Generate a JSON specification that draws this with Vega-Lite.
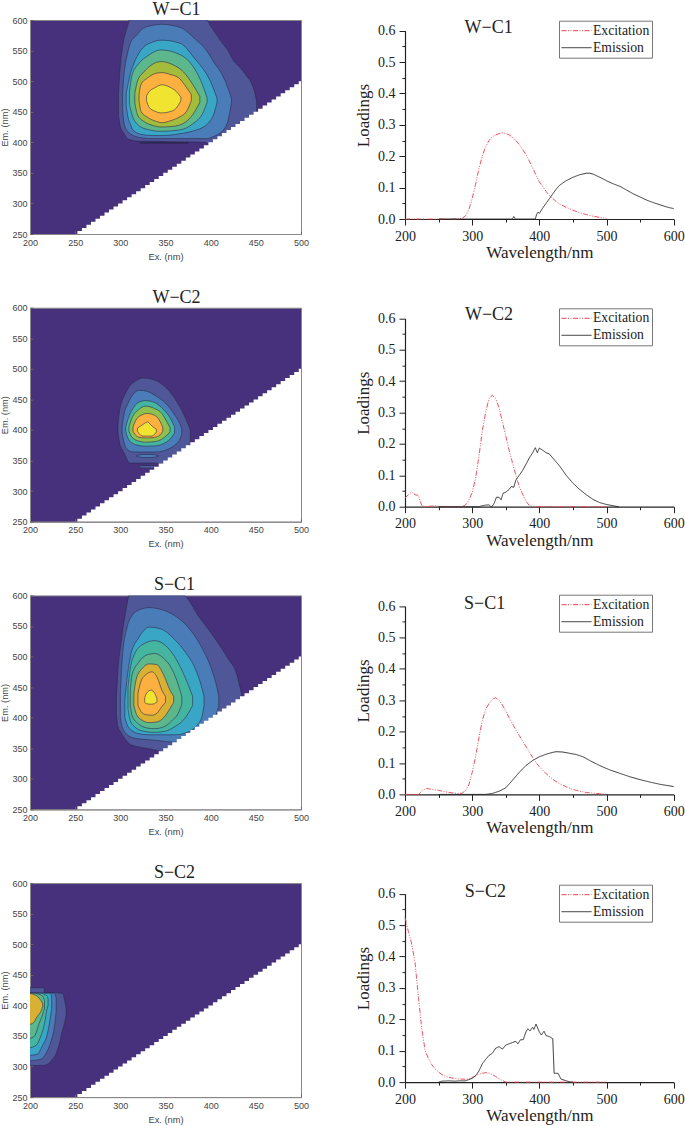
{"$schema":"https://vega.github.io/schema/vega-lite/v6.json","padding":{"left":0,"top":0,"right":0,"bottom":0},"background":"white","bounds":"flush","spacing":375,"config":{"view":{"stroke":null}},"resolve":{"scale":{"stroke":"independent","strokeDash":"independent"},"legend":{"stroke":"independent","strokeDash":"independent"}},
"datasets":{
"diagonal":[{"ex":200,"em":250},{"ex":250,"em":250},{"ex":255,"em":255},{"ex":260,"em":260},{"ex":265,"em":265},{"ex":270,"em":270},{"ex":275,"em":275},{"ex":280,"em":280},{"ex":285,"em":285},{"ex":290,"em":290},{"ex":295,"em":295},{"ex":300,"em":300},{"ex":305,"em":305},{"ex":310,"em":310},{"ex":315,"em":315},{"ex":320,"em":320},{"ex":325,"em":325},{"ex":330,"em":330},{"ex":335,"em":335},{"ex":340,"em":340},{"ex":345,"em":345},{"ex":350,"em":350},{"ex":355,"em":355},{"ex":360,"em":360},{"ex":365,"em":365},{"ex":370,"em":370},{"ex":375,"em":375},{"ex":380,"em":380},{"ex":385,"em":385},{"ex":390,"em":390},{"ex":395,"em":395},{"ex":400,"em":400},{"ex":405,"em":405},{"ex":410,"em":410},{"ex":415,"em":415},{"ex":420,"em":420},{"ex":425,"em":425},{"ex":430,"em":430},{"ex":435,"em":435},{"ex":440,"em":440},{"ex":445,"em":445},{"ex":450,"em":450},{"ex":455,"em":455},{"ex":460,"em":460},{"ex":465,"em":465},{"ex":470,"em":470},{"ex":475,"em":475},{"ex":480,"em":480},{"ex":485,"em":485},{"ex":490,"em":490},{"ex":495,"em":495},{"ex":500,"em":500}],
"labels":[{"panel":"W-C1","label":"W−C1","wl":324.6,"loading":0.592},{"panel":"W-C2","label":"W−C2","wl":325,"loading":0.594},{"panel":"S-C1","label":"S−C1","wl":318.6,"loading":0.59},{"panel":"S-C2","label":"S−C2","wl":319.7,"loading":0.591}],
"contours":[
{"panel":"W-C1","shape":"1","level":"slate","ex":298,"lo":445,"hi":480},{"panel":"W-C1","shape":"1","level":"slate","ex":300,"lo":425,"hi":525},{"panel":"W-C1","shape":"1","level":"slate","ex":303,"lo":417,"hi":560},{"panel":"W-C1","shape":"1","level":"slate","ex":308,"lo":406,"hi":590},{"panel":"W-C1","shape":"1","level":"slate","ex":311,"lo":404,"hi":603},{"panel":"W-C1","shape":"1","level":"slate","ex":320,"lo":402,"hi":603},{"panel":"W-C1","shape":"1","level":"slate","ex":394,"lo":400,"hi":603},{"panel":"W-C1","shape":"1","level":"slate","ex":400,"lo":395,"hi":590},{"panel":"W-C1","shape":"1","level":"slate","ex":410,"lo":395,"hi":568},{"panel":"W-C1","shape":"1","level":"slate","ex":420,"lo":395,"hi":548},{"panel":"W-C1","shape":"1","level":"slate","ex":425,"lo":395,"hi":534},{"panel":"W-C1","shape":"1","level":"slate","ex":430,"lo":395,"hi":526},{"panel":"W-C1","shape":"1","level":"slate","ex":435,"lo":395,"hi":518},{"panel":"W-C1","shape":"1","level":"slate","ex":440,"lo":395,"hi":508},{"panel":"W-C1","shape":"1","level":"slate","ex":445,"lo":395,"hi":497},{"panel":"W-C1","shape":"1","level":"slate","ex":449,"lo":395,"hi":480},{"panel":"W-C1","shape":"1","level":"slate","ex":451,"lo":395,"hi":465},
{"panel":"W-C1","shape":"1d","level":"dark","ex":322,"lo":398.4,"hi":399.6},{"panel":"W-C1","shape":"1d","level":"dark","ex":375,"lo":398.4,"hi":399.6},
{"panel":"W-C1","shape":"2","level":"blue","ex":302.5,"lo":455,"hi":480},{"panel":"W-C1","shape":"2","level":"blue","ex":304,"lo":432,"hi":510},{"panel":"W-C1","shape":"2","level":"blue","ex":308,"lo":418,"hi":545},{"panel":"W-C1","shape":"2","level":"blue","ex":311,"lo":414,"hi":562},{"panel":"W-C1","shape":"2","level":"blue","ex":318,"lo":409,"hi":575},{"panel":"W-C1","shape":"2","level":"blue","ex":325,"lo":407,"hi":586},{"panel":"W-C1","shape":"2","level":"blue","ex":335,"lo":406,"hi":591},{"panel":"W-C1","shape":"2","level":"blue","ex":346,"lo":406,"hi":593},{"panel":"W-C1","shape":"2","level":"blue","ex":358,"lo":406,"hi":591},{"panel":"W-C1","shape":"2","level":"blue","ex":369,"lo":406,"hi":586},{"panel":"W-C1","shape":"2","level":"blue","ex":382,"lo":406,"hi":570},{"panel":"W-C1","shape":"2","level":"blue","ex":395,"lo":406,"hi":551},{"panel":"W-C1","shape":"2","level":"blue","ex":404,"lo":410,"hi":530},{"panel":"W-C1","shape":"2","level":"blue","ex":414,"lo":420,"hi":507},{"panel":"W-C1","shape":"2","level":"blue","ex":420,"lo":440,"hi":485},{"panel":"W-C1","shape":"2","level":"blue","ex":423,"lo":465,"hi":472},
{"panel":"W-C1","shape":"3","level":"sky","ex":306.5,"lo":460,"hi":480},{"panel":"W-C1","shape":"3","level":"sky","ex":308.5,"lo":441,"hi":495},{"panel":"W-C1","shape":"3","level":"sky","ex":311,"lo":430,"hi":512},{"panel":"W-C1","shape":"3","level":"sky","ex":314,"lo":420,"hi":525},{"panel":"W-C1","shape":"3","level":"sky","ex":323,"lo":413,"hi":551},{"panel":"W-C1","shape":"3","level":"sky","ex":336,"lo":411,"hi":564},{"panel":"W-C1","shape":"3","level":"sky","ex":346,"lo":411,"hi":567},{"panel":"W-C1","shape":"3","level":"sky","ex":366,"lo":414,"hi":562},{"panel":"W-C1","shape":"3","level":"sky","ex":384,"lo":420,"hi":534},{"panel":"W-C1","shape":"3","level":"sky","ex":388,"lo":422,"hi":527},{"panel":"W-C1","shape":"3","level":"sky","ex":402,"lo":441,"hi":492},{"panel":"W-C1","shape":"3","level":"sky","ex":407,"lo":465,"hi":472},
{"panel":"W-C1","shape":"4","level":"green","ex":310,"lo":462,"hi":482},{"panel":"W-C1","shape":"4","level":"green","ex":313,"lo":445,"hi":510},{"panel":"W-C1","shape":"4","level":"green","ex":320,"lo":428,"hi":528},{"panel":"W-C1","shape":"4","level":"green","ex":330,"lo":421,"hi":541},{"panel":"W-C1","shape":"4","level":"green","ex":345,"lo":418,"hi":551},{"panel":"W-C1","shape":"4","level":"green","ex":365,"lo":420,"hi":544},{"panel":"W-C1","shape":"4","level":"green","ex":380,"lo":430,"hi":525},{"panel":"W-C1","shape":"4","level":"green","ex":392,"lo":450,"hi":490},{"panel":"W-C1","shape":"4","level":"green","ex":396,"lo":465,"hi":473},
{"panel":"W-C1","shape":"5","level":"olive","ex":316,"lo":465,"hi":480},{"panel":"W-C1","shape":"5","level":"olive","ex":319,"lo":445,"hi":500},{"panel":"W-C1","shape":"5","level":"olive","ex":326,"lo":434,"hi":515},{"panel":"W-C1","shape":"5","level":"olive","ex":335,"lo":428,"hi":527},{"panel":"W-C1","shape":"5","level":"olive","ex":345,"lo":425,"hi":532},{"panel":"W-C1","shape":"5","level":"olive","ex":358,"lo":426,"hi":527},{"panel":"W-C1","shape":"5","level":"olive","ex":370,"lo":431,"hi":515},{"panel":"W-C1","shape":"5","level":"olive","ex":380,"lo":445,"hi":495},{"panel":"W-C1","shape":"5","level":"olive","ex":388,"lo":465,"hi":475},
{"panel":"W-C1","shape":"6","level":"orange","ex":320.7,"lo":468,"hi":478},{"panel":"W-C1","shape":"6","level":"orange","ex":323,"lo":450,"hi":495},{"panel":"W-C1","shape":"6","level":"orange","ex":330,"lo":441,"hi":505},{"panel":"W-C1","shape":"6","level":"orange","ex":340,"lo":434,"hi":513},{"panel":"W-C1","shape":"6","level":"orange","ex":346,"lo":432,"hi":514},{"panel":"W-C1","shape":"6","level":"orange","ex":355,"lo":435,"hi":511},{"panel":"W-C1","shape":"6","level":"orange","ex":365,"lo":441,"hi":505},{"panel":"W-C1","shape":"6","level":"orange","ex":373,"lo":450,"hi":490},{"panel":"W-C1","shape":"6","level":"orange","ex":378.6,"lo":468,"hi":478},
{"panel":"W-C1","shape":"7","level":"yellow","ex":329,"lo":468,"hi":476},{"panel":"W-C1","shape":"7","level":"yellow","ex":332,"lo":457,"hi":483},{"panel":"W-C1","shape":"7","level":"yellow","ex":338,"lo":451,"hi":489},{"panel":"W-C1","shape":"7","level":"yellow","ex":346,"lo":448,"hi":494},{"panel":"W-C1","shape":"7","level":"yellow","ex":355,"lo":450,"hi":490},{"panel":"W-C1","shape":"7","level":"yellow","ex":362,"lo":456,"hi":483},{"panel":"W-C1","shape":"7","level":"yellow","ex":367,"lo":468,"hi":474},

{"panel":"W-C2","shape":"1","level":"slate","ex":297.4,"lo":395,"hi":410},{"panel":"W-C2","shape":"1","level":"slate","ex":299,"lo":380,"hi":430},{"panel":"W-C2","shape":"1","level":"slate","ex":302,"lo":368,"hi":448},{"panel":"W-C2","shape":"1","level":"slate","ex":305,"lo":360,"hi":458},{"panel":"W-C2","shape":"1","level":"slate","ex":310,"lo":346,"hi":471},{"panel":"W-C2","shape":"1","level":"slate","ex":318,"lo":346,"hi":481},{"panel":"W-C2","shape":"1","level":"slate","ex":325,"lo":346,"hi":485},{"panel":"W-C2","shape":"1","level":"slate","ex":335,"lo":346,"hi":483},{"panel":"W-C2","shape":"1","level":"slate","ex":345,"lo":345,"hi":476},{"panel":"W-C2","shape":"1","level":"slate","ex":355,"lo":350,"hi":462},{"panel":"W-C2","shape":"1","level":"slate","ex":365,"lo":355,"hi":440},{"panel":"W-C2","shape":"1","level":"slate","ex":372,"lo":365,"hi":420},{"panel":"W-C2","shape":"1","level":"slate","ex":377.5,"lo":375,"hi":400},
{"panel":"W-C2","shape":"1b","level":"slate","ex":320,"lo":339,"hi":341},{"panel":"W-C2","shape":"1b","level":"slate","ex":325,"lo":337.5,"hi":342},{"panel":"W-C2","shape":"1b","level":"slate","ex":335,"lo":337.5,"hi":342},{"panel":"W-C2","shape":"1b","level":"slate","ex":340,"lo":339,"hi":341},
{"panel":"W-C2","shape":"2","level":"blue","ex":302,"lo":395,"hi":405},{"panel":"W-C2","shape":"2","level":"blue","ex":304,"lo":380,"hi":425},{"panel":"W-C2","shape":"2","level":"blue","ex":308,"lo":368,"hi":442},{"panel":"W-C2","shape":"2","level":"blue","ex":314,"lo":364,"hi":458},{"panel":"W-C2","shape":"2","level":"blue","ex":321,"lo":364,"hi":465},{"panel":"W-C2","shape":"2","level":"blue","ex":330,"lo":364,"hi":463},{"panel":"W-C2","shape":"2","level":"blue","ex":340,"lo":364,"hi":455},{"panel":"W-C2","shape":"2","level":"blue","ex":350,"lo":367,"hi":444},{"panel":"W-C2","shape":"2","level":"blue","ex":360,"lo":375,"hi":425},{"panel":"W-C2","shape":"2","level":"blue","ex":366,"lo":385,"hi":410},{"panel":"W-C2","shape":"2","level":"blue","ex":368,"lo":393,"hi":402},
{"panel":"W-C2","shape":"2b","level":"blue","ex":318,"lo":357,"hi":358},{"panel":"W-C2","shape":"2b","level":"blue","ex":325,"lo":355,"hi":360},{"panel":"W-C2","shape":"2b","level":"blue","ex":335,"lo":355,"hi":360},{"panel":"W-C2","shape":"2b","level":"blue","ex":342,"lo":357,"hi":358},
{"panel":"W-C2","shape":"3","level":"teal","ex":306,"lo":398,"hi":405},{"panel":"W-C2","shape":"3","level":"teal","ex":309,"lo":385,"hi":420},{"panel":"W-C2","shape":"3","level":"teal","ex":314,"lo":378,"hi":435},{"panel":"W-C2","shape":"3","level":"teal","ex":320,"lo":375,"hi":445},{"panel":"W-C2","shape":"3","level":"teal","ex":328,"lo":373.5,"hi":448},{"panel":"W-C2","shape":"3","level":"teal","ex":338,"lo":374,"hi":445},{"panel":"W-C2","shape":"3","level":"teal","ex":348,"lo":378,"hi":433},{"panel":"W-C2","shape":"3","level":"teal","ex":355,"lo":385,"hi":420},{"panel":"W-C2","shape":"3","level":"teal","ex":360,"lo":395,"hi":405},
{"panel":"W-C2","shape":"4","level":"lime","ex":309.5,"lo":398,"hi":405},{"panel":"W-C2","shape":"4","level":"lime","ex":313,"lo":388,"hi":420},{"panel":"W-C2","shape":"4","level":"lime","ex":320,"lo":382,"hi":433},{"panel":"W-C2","shape":"4","level":"lime","ex":328,"lo":380,"hi":439},{"panel":"W-C2","shape":"4","level":"lime","ex":338,"lo":381,"hi":435},{"panel":"W-C2","shape":"4","level":"lime","ex":346,"lo":385,"hi":427},{"panel":"W-C2","shape":"4","level":"lime","ex":352,"lo":392,"hi":412},{"panel":"W-C2","shape":"4","level":"lime","ex":355,"lo":397,"hi":404},
{"panel":"W-C2","shape":"5","level":"orange","ex":314,"lo":398,"hi":405},{"panel":"W-C2","shape":"5","level":"orange","ex":318,"lo":390,"hi":418},{"panel":"W-C2","shape":"5","level":"orange","ex":323,"lo":387.5,"hi":424},{"panel":"W-C2","shape":"5","level":"orange","ex":330,"lo":387,"hi":427},{"panel":"W-C2","shape":"5","level":"orange","ex":338,"lo":388,"hi":424},{"panel":"W-C2","shape":"5","level":"orange","ex":344,"lo":392,"hi":414},{"panel":"W-C2","shape":"5","level":"orange","ex":347,"lo":398,"hi":404},
{"panel":"W-C2","shape":"6","level":"yellow","ex":319,"lo":398,"hi":403},{"panel":"W-C2","shape":"6","level":"yellow","ex":322,"lo":392,"hi":406},{"panel":"W-C2","shape":"6","level":"yellow","ex":326,"lo":390,"hi":410},{"panel":"W-C2","shape":"6","level":"yellow","ex":330,"lo":390,"hi":413},{"panel":"W-C2","shape":"6","level":"yellow","ex":334,"lo":390,"hi":408},{"panel":"W-C2","shape":"6","level":"yellow","ex":338,"lo":393,"hi":403},{"panel":"W-C2","shape":"6","level":"yellow","ex":340,"lo":397,"hi":401},

{"panel":"S-C1","shape":"1","level":"slate","ex":295.6,"lo":405,"hi":430},{"panel":"S-C1","shape":"1","level":"slate","ex":297,"lo":388,"hi":470},{"panel":"S-C1","shape":"1","level":"slate","ex":301,"lo":375,"hi":525},{"panel":"S-C1","shape":"1","level":"slate","ex":305,"lo":366,"hi":565},{"panel":"S-C1","shape":"1","level":"slate","ex":311,"lo":356,"hi":603},{"panel":"S-C1","shape":"1","level":"slate","ex":318,"lo":353,"hi":603},{"panel":"S-C1","shape":"1","level":"slate","ex":332,"lo":349,"hi":603},{"panel":"S-C1","shape":"1","level":"slate","ex":345,"lo":345,"hi":603},{"panel":"S-C1","shape":"1","level":"slate","ex":367,"lo":340,"hi":603},{"panel":"S-C1","shape":"1","level":"slate","ex":388,"lo":340,"hi":563},{"panel":"S-C1","shape":"1","level":"slate","ex":406,"lo":340,"hi":527},{"panel":"S-C1","shape":"1","level":"slate","ex":420,"lo":340,"hi":495},{"panel":"S-C1","shape":"1","level":"slate","ex":428,"lo":340,"hi":475},{"panel":"S-C1","shape":"1","level":"slate","ex":434,"lo":340,"hi":440},
{"panel":"S-C1","shape":"2","level":"blue","ex":300,"lo":400,"hi":440},{"panel":"S-C1","shape":"2","level":"blue","ex":302,"lo":385,"hi":495},{"panel":"S-C1","shape":"2","level":"blue","ex":307,"lo":373,"hi":545},{"panel":"S-C1","shape":"2","level":"blue","ex":312,"lo":368,"hi":565},{"panel":"S-C1","shape":"2","level":"blue","ex":322,"lo":365,"hi":577},{"panel":"S-C1","shape":"2","level":"blue","ex":332,"lo":364,"hi":580},{"panel":"S-C1","shape":"2","level":"blue","ex":345,"lo":362,"hi":577},{"panel":"S-C1","shape":"2","level":"blue","ex":360,"lo":360,"hi":567},{"panel":"S-C1","shape":"2","level":"blue","ex":375,"lo":360,"hi":548},{"panel":"S-C1","shape":"2","level":"blue","ex":390,"lo":360,"hi":515},{"panel":"S-C1","shape":"2","level":"blue","ex":402,"lo":385,"hi":475},{"panel":"S-C1","shape":"2","level":"blue","ex":406,"lo":404,"hi":455},{"panel":"S-C1","shape":"2","level":"blue","ex":409,"lo":420,"hi":435},
{"panel":"S-C1","shape":"3","level":"sky","ex":305,"lo":400,"hi":430},{"panel":"S-C1","shape":"3","level":"sky","ex":308,"lo":387,"hi":470},{"panel":"S-C1","shape":"3","level":"sky","ex":312,"lo":380,"hi":505},{"panel":"S-C1","shape":"3","level":"sky","ex":320,"lo":374,"hi":530},{"panel":"S-C1","shape":"3","level":"sky","ex":332,"lo":372,"hi":548},{"panel":"S-C1","shape":"3","level":"sky","ex":345,"lo":372,"hi":545},{"panel":"S-C1","shape":"3","level":"sky","ex":360,"lo":372,"hi":528},{"panel":"S-C1","shape":"3","level":"sky","ex":372,"lo":375,"hi":507},{"panel":"S-C1","shape":"3","level":"sky","ex":383,"lo":385,"hi":480},{"panel":"S-C1","shape":"3","level":"sky","ex":390,"lo":400,"hi":450},{"panel":"S-C1","shape":"3","level":"sky","ex":392.6,"lo":420,"hi":435},
{"panel":"S-C1","shape":"4","level":"teal","ex":308.5,"lo":415,"hi":450},{"panel":"S-C1","shape":"4","level":"teal","ex":311,"lo":395,"hi":480},{"panel":"S-C1","shape":"4","level":"teal","ex":316,"lo":385,"hi":505},{"panel":"S-C1","shape":"4","level":"teal","ex":325,"lo":378,"hi":520},{"panel":"S-C1","shape":"4","level":"teal","ex":338,"lo":376,"hi":526},{"panel":"S-C1","shape":"4","level":"teal","ex":350,"lo":378,"hi":518},{"panel":"S-C1","shape":"4","level":"teal","ex":360,"lo":385,"hi":500},{"panel":"S-C1","shape":"4","level":"teal","ex":372,"lo":400,"hi":465},{"panel":"S-C1","shape":"4","level":"teal","ex":380,"lo":420,"hi":435},
{"panel":"S-C1","shape":"5","level":"green","ex":311,"lo":420,"hi":445},{"panel":"S-C1","shape":"5","level":"green","ex":313,"lo":403,"hi":470},{"panel":"S-C1","shape":"5","level":"green","ex":320,"lo":390,"hi":490},{"panel":"S-C1","shape":"5","level":"green","ex":330,"lo":383,"hi":503},{"panel":"S-C1","shape":"5","level":"green","ex":338,"lo":382,"hi":505},{"panel":"S-C1","shape":"5","level":"green","ex":348,"lo":385,"hi":497},{"panel":"S-C1","shape":"5","level":"green","ex":357,"lo":395,"hi":480},{"panel":"S-C1","shape":"5","level":"green","ex":365,"lo":410,"hi":450},{"panel":"S-C1","shape":"5","level":"green","ex":368,"lo":422,"hi":435},
{"panel":"S-C1","shape":"6","level":"gold","ex":315,"lo":420,"hi":440},{"panel":"S-C1","shape":"6","level":"gold","ex":318,"lo":405,"hi":465},{"panel":"S-C1","shape":"6","level":"gold","ex":324,"lo":396,"hi":480},{"panel":"S-C1","shape":"6","level":"gold","ex":332,"lo":392,"hi":488},{"panel":"S-C1","shape":"6","level":"gold","ex":340,"lo":393,"hi":487},{"panel":"S-C1","shape":"6","level":"gold","ex":348,"lo":400,"hi":470},{"panel":"S-C1","shape":"6","level":"gold","ex":355,"lo":415,"hi":445},{"panel":"S-C1","shape":"6","level":"gold","ex":359,"lo":425,"hi":435},
{"panel":"S-C1","shape":"7","level":"orange","ex":319.5,"lo":420,"hi":440},{"panel":"S-C1","shape":"7","level":"orange","ex":323,"lo":410,"hi":460},{"panel":"S-C1","shape":"7","level":"orange","ex":328,"lo":405,"hi":470},{"panel":"S-C1","shape":"7","level":"orange","ex":335,"lo":404,"hi":475},{"panel":"S-C1","shape":"7","level":"orange","ex":341,"lo":408,"hi":465},{"panel":"S-C1","shape":"7","level":"orange","ex":346,"lo":418,"hi":445},{"panel":"S-C1","shape":"7","level":"orange","ex":350,"lo":425,"hi":435},
{"panel":"S-C1","shape":"8","level":"yellow","ex":327,"lo":425,"hi":432},{"panel":"S-C1","shape":"8","level":"yellow","ex":329,"lo":423,"hi":440},{"panel":"S-C1","shape":"8","level":"yellow","ex":334,"lo":422,"hi":445},{"panel":"S-C1","shape":"8","level":"yellow","ex":338,"lo":423,"hi":440},{"panel":"S-C1","shape":"8","level":"yellow","ex":340.5,"lo":426,"hi":431},

{"panel":"S-C2","shape":"1","level":"slate","ex":198,"lo":301,"hi":429},{"panel":"S-C2","shape":"1","level":"slate","ex":215.5,"lo":302,"hi":429},{"panel":"S-C2","shape":"1","level":"slate","ex":216,"lo":302,"hi":421},{"panel":"S-C2","shape":"1","level":"slate","ex":225,"lo":312,"hi":421},{"panel":"S-C2","shape":"1","level":"slate","ex":228,"lo":318,"hi":421},{"panel":"S-C2","shape":"1","level":"slate","ex":233,"lo":340,"hi":420},{"panel":"S-C2","shape":"1","level":"slate","ex":236,"lo":360,"hi":420},{"panel":"S-C2","shape":"1","level":"slate","ex":238,"lo":370,"hi":410},{"panel":"S-C2","shape":"1","level":"slate","ex":240,"lo":385,"hi":395},
{"panel":"S-C2","shape":"2","level":"blue","ex":198,"lo":309,"hi":420},{"panel":"S-C2","shape":"2","level":"blue","ex":212,"lo":312,"hi":420},{"panel":"S-C2","shape":"2","level":"blue","ex":218,"lo":322,"hi":420},{"panel":"S-C2","shape":"2","level":"blue","ex":223,"lo":340,"hi":420},{"panel":"S-C2","shape":"2","level":"blue","ex":227,"lo":365,"hi":420},{"panel":"S-C2","shape":"2","level":"blue","ex":229,"lo":390,"hi":412},
{"panel":"S-C2","shape":"3","level":"sky","ex":198,"lo":318,"hi":420},{"panel":"S-C2","shape":"3","level":"sky","ex":208,"lo":320,"hi":420},{"panel":"S-C2","shape":"3","level":"sky","ex":214,"lo":335,"hi":420},{"panel":"S-C2","shape":"3","level":"sky","ex":219,"lo":352,"hi":420},{"panel":"S-C2","shape":"3","level":"sky","ex":222,"lo":375,"hi":420},{"panel":"S-C2","shape":"3","level":"sky","ex":224,"lo":395,"hi":415},
{"panel":"S-C2","shape":"4","level":"teal","ex":198,"lo":330,"hi":420},{"panel":"S-C2","shape":"4","level":"teal","ex":207,"lo":335,"hi":420},{"panel":"S-C2","shape":"4","level":"teal","ex":212,"lo":350,"hi":420},{"panel":"S-C2","shape":"4","level":"teal","ex":216,"lo":370,"hi":418},{"panel":"S-C2","shape":"4","level":"teal","ex":219,"lo":395,"hi":415},{"panel":"S-C2","shape":"4","level":"teal","ex":220,"lo":400,"hi":410},
{"panel":"S-C2","shape":"5","level":"green","ex":198,"lo":345,"hi":420},{"panel":"S-C2","shape":"5","level":"green","ex":205,"lo":350,"hi":420},{"panel":"S-C2","shape":"5","level":"green","ex":210,"lo":370,"hi":418},{"panel":"S-C2","shape":"5","level":"green","ex":214,"lo":385,"hi":415},{"panel":"S-C2","shape":"5","level":"green","ex":216,"lo":395,"hi":408},
{"panel":"S-C2","shape":"6","level":"gold","ex":198,"lo":368,"hi":420},{"panel":"S-C2","shape":"6","level":"gold","ex":204,"lo":372,"hi":418},{"panel":"S-C2","shape":"6","level":"gold","ex":208,"lo":382,"hi":415},{"panel":"S-C2","shape":"6","level":"gold","ex":212,"lo":390,"hi":408},{"panel":"S-C2","shape":"6","level":"gold","ex":214,"lo":398,"hi":403}
],
"spectra":[
{"panel":"W-C1","series":"Excitation","wl":200,"loading":0},{"panel":"W-C1","series":"Excitation","wl":280,"loading":0},{"panel":"W-C1","series":"Excitation","wl":285,"loading":0.002},{"panel":"W-C1","series":"Excitation","wl":290,"loading":0.01},{"panel":"W-C1","series":"Excitation","wl":295,"loading":0.03},{"panel":"W-C1","series":"Excitation","wl":300,"loading":0.065},{"panel":"W-C1","series":"Excitation","wl":305,"loading":0.11},{"panel":"W-C1","series":"Excitation","wl":310,"loading":0.16},{"panel":"W-C1","series":"Excitation","wl":315,"loading":0.2},{"panel":"W-C1","series":"Excitation","wl":320,"loading":0.23},{"panel":"W-C1","series":"Excitation","wl":325,"loading":0.25},{"panel":"W-C1","series":"Excitation","wl":330,"loading":0.262},{"panel":"W-C1","series":"Excitation","wl":335,"loading":0.268},{"panel":"W-C1","series":"Excitation","wl":340,"loading":0.272},{"panel":"W-C1","series":"Excitation","wl":345,"loading":0.275},{"panel":"W-C1","series":"Excitation","wl":350,"loading":0.273},{"panel":"W-C1","series":"Excitation","wl":355,"loading":0.268},{"panel":"W-C1","series":"Excitation","wl":360,"loading":0.26},{"panel":"W-C1","series":"Excitation","wl":365,"loading":0.25},{"panel":"W-C1","series":"Excitation","wl":370,"loading":0.237},{"panel":"W-C1","series":"Excitation","wl":375,"loading":0.222},{"panel":"W-C1","series":"Excitation","wl":380,"loading":0.205},{"panel":"W-C1","series":"Excitation","wl":385,"loading":0.185},{"panel":"W-C1","series":"Excitation","wl":390,"loading":0.163},{"panel":"W-C1","series":"Excitation","wl":395,"loading":0.14},{"panel":"W-C1","series":"Excitation","wl":400,"loading":0.118},{"panel":"W-C1","series":"Excitation","wl":405,"loading":0.103},{"panel":"W-C1","series":"Excitation","wl":410,"loading":0.088},{"panel":"W-C1","series":"Excitation","wl":415,"loading":0.075},{"panel":"W-C1","series":"Excitation","wl":420,"loading":0.065},{"panel":"W-C1","series":"Excitation","wl":425,"loading":0.056},{"panel":"W-C1","series":"Excitation","wl":430,"loading":0.048},{"panel":"W-C1","series":"Excitation","wl":440,"loading":0.037},{"panel":"W-C1","series":"Excitation","wl":450,"loading":0.028},{"panel":"W-C1","series":"Excitation","wl":460,"loading":0.02},{"panel":"W-C1","series":"Excitation","wl":470,"loading":0.014},{"panel":"W-C1","series":"Excitation","wl":480,"loading":0.009},{"panel":"W-C1","series":"Excitation","wl":490,"loading":0.005},{"panel":"W-C1","series":"Excitation","wl":500,"loading":0.002},
{"panel":"W-C1","series":"Emission","wl":250,"loading":0},{"panel":"W-C1","series":"Emission","wl":360,"loading":0},{"panel":"W-C1","series":"Emission","wl":362,"loading":0.008},{"panel":"W-C1","series":"Emission","wl":364,"loading":0},{"panel":"W-C1","series":"Emission","wl":394,"loading":0},{"panel":"W-C1","series":"Emission","wl":396,"loading":0.015},{"panel":"W-C1","series":"Emission","wl":398,"loading":0.022},{"panel":"W-C1","series":"Emission","wl":400,"loading":0.018},{"panel":"W-C1","series":"Emission","wl":405,"loading":0.035},{"panel":"W-C1","series":"Emission","wl":410,"loading":0.05},{"panel":"W-C1","series":"Emission","wl":415,"loading":0.065},{"panel":"W-C1","series":"Emission","wl":420,"loading":0.08},{"panel":"W-C1","series":"Emission","wl":425,"loading":0.095},{"panel":"W-C1","series":"Emission","wl":430,"loading":0.107},{"panel":"W-C1","series":"Emission","wl":435,"loading":0.115},{"panel":"W-C1","series":"Emission","wl":440,"loading":0.122},{"panel":"W-C1","series":"Emission","wl":450,"loading":0.133},{"panel":"W-C1","series":"Emission","wl":460,"loading":0.141},{"panel":"W-C1","series":"Emission","wl":470,"loading":0.146},{"panel":"W-C1","series":"Emission","wl":475,"loading":0.146},{"panel":"W-C1","series":"Emission","wl":480,"loading":0.143},{"panel":"W-C1","series":"Emission","wl":490,"loading":0.133},{"panel":"W-C1","series":"Emission","wl":500,"loading":0.122},{"panel":"W-C1","series":"Emission","wl":510,"loading":0.112},{"panel":"W-C1","series":"Emission","wl":520,"loading":0.104},{"panel":"W-C1","series":"Emission","wl":530,"loading":0.092},{"panel":"W-C1","series":"Emission","wl":540,"loading":0.08},{"panel":"W-C1","series":"Emission","wl":550,"loading":0.07},{"panel":"W-C1","series":"Emission","wl":560,"loading":0.06},{"panel":"W-C1","series":"Emission","wl":570,"loading":0.052},{"panel":"W-C1","series":"Emission","wl":580,"loading":0.045},{"panel":"W-C1","series":"Emission","wl":590,"loading":0.038},{"panel":"W-C1","series":"Emission","wl":600,"loading":0.033},

{"panel":"W-C2","series":"Excitation","wl":200,"loading":0.028},{"panel":"W-C2","series":"Excitation","wl":205,"loading":0.038},{"panel":"W-C2","series":"Excitation","wl":210,"loading":0.047},{"panel":"W-C2","series":"Excitation","wl":215,"loading":0.038},{"panel":"W-C2","series":"Excitation","wl":220,"loading":0.036},{"panel":"W-C2","series":"Excitation","wl":223,"loading":0.015},{"panel":"W-C2","series":"Excitation","wl":226,"loading":0.001},{"panel":"W-C2","series":"Excitation","wl":235,"loading":0.001},{"panel":"W-C2","series":"Excitation","wl":245,"loading":0.003},{"panel":"W-C2","series":"Excitation","wl":255,"loading":0},{"panel":"W-C2","series":"Excitation","wl":285,"loading":0},{"panel":"W-C2","series":"Excitation","wl":290,"loading":0.006},{"panel":"W-C2","series":"Excitation","wl":295,"loading":0.02},{"panel":"W-C2","series":"Excitation","wl":300,"loading":0.045},{"panel":"W-C2","series":"Excitation","wl":305,"loading":0.09},{"panel":"W-C2","series":"Excitation","wl":310,"loading":0.16},{"panel":"W-C2","series":"Excitation","wl":315,"loading":0.24},{"panel":"W-C2","series":"Excitation","wl":320,"loading":0.3},{"panel":"W-C2","series":"Excitation","wl":325,"loading":0.345},{"panel":"W-C2","series":"Excitation","wl":330,"loading":0.355},{"panel":"W-C2","series":"Excitation","wl":335,"loading":0.345},{"panel":"W-C2","series":"Excitation","wl":340,"loading":0.315},{"panel":"W-C2","series":"Excitation","wl":345,"loading":0.27},{"panel":"W-C2","series":"Excitation","wl":350,"loading":0.225},{"panel":"W-C2","series":"Excitation","wl":355,"loading":0.18},{"panel":"W-C2","series":"Excitation","wl":360,"loading":0.14},{"panel":"W-C2","series":"Excitation","wl":365,"loading":0.1},{"panel":"W-C2","series":"Excitation","wl":370,"loading":0.065},{"panel":"W-C2","series":"Excitation","wl":375,"loading":0.04},{"panel":"W-C2","series":"Excitation","wl":380,"loading":0.018},{"panel":"W-C2","series":"Excitation","wl":385,"loading":0.004},{"panel":"W-C2","series":"Excitation","wl":390,"loading":0},{"panel":"W-C2","series":"Excitation","wl":500,"loading":0},
{"panel":"W-C2","series":"Emission","wl":250,"loading":0},{"panel":"W-C2","series":"Emission","wl":310,"loading":0},{"panel":"W-C2","series":"Emission","wl":315,"loading":0.003},{"panel":"W-C2","series":"Emission","wl":320,"loading":0.005},{"panel":"W-C2","series":"Emission","wl":325,"loading":0.006},{"panel":"W-C2","series":"Emission","wl":328,"loading":0},{"panel":"W-C2","series":"Emission","wl":330,"loading":0.002},{"panel":"W-C2","series":"Emission","wl":333,"loading":0.012},{"panel":"W-C2","series":"Emission","wl":336,"loading":0.03},{"panel":"W-C2","series":"Emission","wl":340,"loading":0.03},{"panel":"W-C2","series":"Emission","wl":343,"loading":0.022},{"panel":"W-C2","series":"Emission","wl":346,"loading":0.043},{"panel":"W-C2","series":"Emission","wl":350,"loading":0.046},{"panel":"W-C2","series":"Emission","wl":355,"loading":0.055},{"panel":"W-C2","series":"Emission","wl":358,"loading":0.064},{"panel":"W-C2","series":"Emission","wl":362,"loading":0.062},{"panel":"W-C2","series":"Emission","wl":365,"loading":0.085},{"panel":"W-C2","series":"Emission","wl":370,"loading":0.1},{"panel":"W-C2","series":"Emission","wl":375,"loading":0.115},{"panel":"W-C2","series":"Emission","wl":380,"loading":0.135},{"panel":"W-C2","series":"Emission","wl":385,"loading":0.155},{"panel":"W-C2","series":"Emission","wl":390,"loading":0.172},{"panel":"W-C2","series":"Emission","wl":394,"loading":0.188},{"panel":"W-C2","series":"Emission","wl":397,"loading":0.172},{"panel":"W-C2","series":"Emission","wl":400,"loading":0.187},{"panel":"W-C2","series":"Emission","wl":405,"loading":0.18},{"panel":"W-C2","series":"Emission","wl":410,"loading":0.172},{"panel":"W-C2","series":"Emission","wl":415,"loading":0.168},{"panel":"W-C2","series":"Emission","wl":420,"loading":0.155},{"panel":"W-C2","series":"Emission","wl":430,"loading":0.13},{"panel":"W-C2","series":"Emission","wl":440,"loading":0.1},{"panel":"W-C2","series":"Emission","wl":450,"loading":0.075},{"panel":"W-C2","series":"Emission","wl":460,"loading":0.055},{"panel":"W-C2","series":"Emission","wl":470,"loading":0.038},{"panel":"W-C2","series":"Emission","wl":480,"loading":0.023},{"panel":"W-C2","series":"Emission","wl":490,"loading":0.013},{"panel":"W-C2","series":"Emission","wl":500,"loading":0.007},{"panel":"W-C2","series":"Emission","wl":510,"loading":0.003},{"panel":"W-C2","series":"Emission","wl":518,"loading":0},

{"panel":"S-C1","series":"Excitation","wl":200,"loading":0},{"panel":"S-C1","series":"Excitation","wl":220,"loading":0},{"panel":"S-C1","series":"Excitation","wl":224,"loading":0.008},{"panel":"S-C1","series":"Excitation","wl":228,"loading":0.015},{"panel":"S-C1","series":"Excitation","wl":232,"loading":0.019},{"panel":"S-C1","series":"Excitation","wl":240,"loading":0.016},{"panel":"S-C1","series":"Excitation","wl":250,"loading":0.013},{"panel":"S-C1","series":"Excitation","wl":260,"loading":0.008},{"panel":"S-C1","series":"Excitation","wl":270,"loading":0.005},{"panel":"S-C1","series":"Excitation","wl":280,"loading":0.003},{"panel":"S-C1","series":"Excitation","wl":285,"loading":0.004},{"panel":"S-C1","series":"Excitation","wl":290,"loading":0.012},{"panel":"S-C1","series":"Excitation","wl":295,"loading":0.03},{"panel":"S-C1","series":"Excitation","wl":300,"loading":0.07},{"panel":"S-C1","series":"Excitation","wl":305,"loading":0.12},{"panel":"S-C1","series":"Excitation","wl":310,"loading":0.18},{"panel":"S-C1","series":"Excitation","wl":315,"loading":0.235},{"panel":"S-C1","series":"Excitation","wl":320,"loading":0.27},{"panel":"S-C1","series":"Excitation","wl":325,"loading":0.29},{"panel":"S-C1","series":"Excitation","wl":330,"loading":0.303},{"panel":"S-C1","series":"Excitation","wl":335,"loading":0.308},{"panel":"S-C1","series":"Excitation","wl":340,"loading":0.3},{"panel":"S-C1","series":"Excitation","wl":345,"loading":0.285},{"panel":"S-C1","series":"Excitation","wl":350,"loading":0.265},{"panel":"S-C1","series":"Excitation","wl":355,"loading":0.245},{"panel":"S-C1","series":"Excitation","wl":360,"loading":0.225},{"panel":"S-C1","series":"Excitation","wl":365,"loading":0.205},{"panel":"S-C1","series":"Excitation","wl":370,"loading":0.188},{"panel":"S-C1","series":"Excitation","wl":375,"loading":0.17},{"panel":"S-C1","series":"Excitation","wl":380,"loading":0.153},{"panel":"S-C1","series":"Excitation","wl":385,"loading":0.135},{"panel":"S-C1","series":"Excitation","wl":390,"loading":0.118},{"panel":"S-C1","series":"Excitation","wl":395,"loading":0.102},{"panel":"S-C1","series":"Excitation","wl":400,"loading":0.088},{"panel":"S-C1","series":"Excitation","wl":410,"loading":0.066},{"panel":"S-C1","series":"Excitation","wl":420,"loading":0.048},{"panel":"S-C1","series":"Excitation","wl":430,"loading":0.034},{"panel":"S-C1","series":"Excitation","wl":440,"loading":0.024},{"panel":"S-C1","series":"Excitation","wl":450,"loading":0.016},{"panel":"S-C1","series":"Excitation","wl":460,"loading":0.01},{"panel":"S-C1","series":"Excitation","wl":470,"loading":0.006},{"panel":"S-C1","series":"Excitation","wl":480,"loading":0.004},{"panel":"S-C1","series":"Excitation","wl":490,"loading":0.002},{"panel":"S-C1","series":"Excitation","wl":500,"loading":0.001},
{"panel":"S-C1","series":"Emission","wl":250,"loading":0},{"panel":"S-C1","series":"Emission","wl":320,"loading":0},{"panel":"S-C1","series":"Emission","wl":330,"loading":0.003},{"panel":"S-C1","series":"Emission","wl":340,"loading":0.01},{"panel":"S-C1","series":"Emission","wl":350,"loading":0.021},{"panel":"S-C1","series":"Emission","wl":360,"loading":0.045},{"panel":"S-C1","series":"Emission","wl":370,"loading":0.07},{"panel":"S-C1","series":"Emission","wl":380,"loading":0.092},{"panel":"S-C1","series":"Emission","wl":390,"loading":0.108},{"panel":"S-C1","series":"Emission","wl":400,"loading":0.12},{"panel":"S-C1","series":"Emission","wl":410,"loading":0.128},{"panel":"S-C1","series":"Emission","wl":420,"loading":0.134},{"panel":"S-C1","series":"Emission","wl":425,"loading":0.136},{"panel":"S-C1","series":"Emission","wl":435,"loading":0.135},{"panel":"S-C1","series":"Emission","wl":445,"loading":0.131},{"panel":"S-C1","series":"Emission","wl":455,"loading":0.127},{"panel":"S-C1","series":"Emission","wl":465,"loading":0.12},{"panel":"S-C1","series":"Emission","wl":475,"loading":0.108},{"panel":"S-C1","series":"Emission","wl":485,"loading":0.097},{"panel":"S-C1","series":"Emission","wl":495,"loading":0.087},{"panel":"S-C1","series":"Emission","wl":505,"loading":0.078},{"panel":"S-C1","series":"Emission","wl":520,"loading":0.067},{"panel":"S-C1","series":"Emission","wl":535,"loading":0.056},{"panel":"S-C1","series":"Emission","wl":550,"loading":0.047},{"panel":"S-C1","series":"Emission","wl":565,"loading":0.039},{"panel":"S-C1","series":"Emission","wl":580,"loading":0.032},{"panel":"S-C1","series":"Emission","wl":600,"loading":0.025},

{"panel":"S-C2","series":"Excitation","wl":200,"loading":0.525},{"panel":"S-C2","series":"Excitation","wl":205,"loading":0.48},{"panel":"S-C2","series":"Excitation","wl":210,"loading":0.44},{"panel":"S-C2","series":"Excitation","wl":215,"loading":0.38},{"panel":"S-C2","series":"Excitation","wl":220,"loading":0.27},{"panel":"S-C2","series":"Excitation","wl":225,"loading":0.17},{"panel":"S-C2","series":"Excitation","wl":230,"loading":0.1},{"panel":"S-C2","series":"Excitation","wl":235,"loading":0.075},{"panel":"S-C2","series":"Excitation","wl":240,"loading":0.055},{"panel":"S-C2","series":"Excitation","wl":245,"loading":0.042},{"panel":"S-C2","series":"Excitation","wl":250,"loading":0.032},{"panel":"S-C2","series":"Excitation","wl":255,"loading":0.024},{"panel":"S-C2","series":"Excitation","wl":260,"loading":0.018},{"panel":"S-C2","series":"Excitation","wl":270,"loading":0.013},{"panel":"S-C2","series":"Excitation","wl":280,"loading":0.01},{"panel":"S-C2","series":"Excitation","wl":290,"loading":0.009},{"panel":"S-C2","series":"Excitation","wl":295,"loading":0.01},{"panel":"S-C2","series":"Excitation","wl":300,"loading":0.015},{"panel":"S-C2","series":"Excitation","wl":305,"loading":0.02},{"panel":"S-C2","series":"Excitation","wl":310,"loading":0.025},{"panel":"S-C2","series":"Excitation","wl":315,"loading":0.028},{"panel":"S-C2","series":"Excitation","wl":320,"loading":0.03},{"panel":"S-C2","series":"Excitation","wl":325,"loading":0.029},{"panel":"S-C2","series":"Excitation","wl":330,"loading":0.024},{"panel":"S-C2","series":"Excitation","wl":335,"loading":0.018},{"panel":"S-C2","series":"Excitation","wl":340,"loading":0.01},{"panel":"S-C2","series":"Excitation","wl":345,"loading":0.005},{"panel":"S-C2","series":"Excitation","wl":350,"loading":0},{"panel":"S-C2","series":"Excitation","wl":500,"loading":0},
{"panel":"S-C2","series":"Emission","wl":250,"loading":0},{"panel":"S-C2","series":"Emission","wl":255,"loading":0.003},{"panel":"S-C2","series":"Emission","wl":265,"loading":0.004},{"panel":"S-C2","series":"Emission","wl":275,"loading":0.003},{"panel":"S-C2","series":"Emission","wl":280,"loading":0.004},{"panel":"S-C2","series":"Emission","wl":290,"loading":0.004},{"panel":"S-C2","series":"Emission","wl":295,"loading":0.008},{"panel":"S-C2","series":"Emission","wl":300,"loading":0.012},{"panel":"S-C2","series":"Emission","wl":305,"loading":0.02},{"panel":"S-C2","series":"Emission","wl":310,"loading":0.035},{"panel":"S-C2","series":"Emission","wl":315,"loading":0.058},{"panel":"S-C2","series":"Emission","wl":320,"loading":0.072},{"panel":"S-C2","series":"Emission","wl":325,"loading":0.085},{"panel":"S-C2","series":"Emission","wl":330,"loading":0.092},{"panel":"S-C2","series":"Emission","wl":335,"loading":0.108},{"panel":"S-C2","series":"Emission","wl":340,"loading":0.113},{"panel":"S-C2","series":"Emission","wl":345,"loading":0.105},{"panel":"S-C2","series":"Emission","wl":350,"loading":0.118},{"panel":"S-C2","series":"Emission","wl":355,"loading":0.122},{"panel":"S-C2","series":"Emission","wl":360,"loading":0.126},{"panel":"S-C2","series":"Emission","wl":365,"loading":0.13},{"panel":"S-C2","series":"Emission","wl":368,"loading":0.122},{"panel":"S-C2","series":"Emission","wl":372,"loading":0.135},{"panel":"S-C2","series":"Emission","wl":376,"loading":0.135},{"panel":"S-C2","series":"Emission","wl":380,"loading":0.16},{"panel":"S-C2","series":"Emission","wl":383,"loading":0.17},{"panel":"S-C2","series":"Emission","wl":386,"loading":0.163},{"panel":"S-C2","series":"Emission","wl":390,"loading":0.175},{"panel":"S-C2","series":"Emission","wl":392,"loading":0.168},{"panel":"S-C2","series":"Emission","wl":395,"loading":0.185},{"panel":"S-C2","series":"Emission","wl":400,"loading":0.16},{"panel":"S-C2","series":"Emission","wl":403,"loading":0.15},{"panel":"S-C2","series":"Emission","wl":407,"loading":0.162},{"panel":"S-C2","series":"Emission","wl":410,"loading":0.148},{"panel":"S-C2","series":"Emission","wl":415,"loading":0.145},{"panel":"S-C2","series":"Emission","wl":420,"loading":0.138},{"panel":"S-C2","series":"Emission","wl":422,"loading":0.028},{"panel":"S-C2","series":"Emission","wl":428,"loading":0.028},{"panel":"S-C2","series":"Emission","wl":432,"loading":0.01},{"panel":"S-C2","series":"Emission","wl":440,"loading":0.004},{"panel":"S-C2","series":"Emission","wl":445,"loading":0.001},{"panel":"S-C2","series":"Emission","wl":450,"loading":0}
]},
"hconcat":[
{"vconcat":[
{"title":{"text":"W−C1","font":"Liberation Serif","fontSize":18,"fontWeight":"normal","color":"#222","offset":-3,"dx":11},"width":271,"height":214,"view":{"fill":"#47307c","stroke":"#888888"},"layer":[
{"data":{"name":"contours"},"transform":[{"filter":"datum.panel==='W-C1'"}],"mark":{"type":"area","interpolate":"monotone","clip":true,"stroke":"#2b2b4a","strokeWidth":0.7,"strokeOpacity":0.85},"encoding":{"x":{"field":"ex","type":"quantitative","scale":{"domain":[200,500],"nice":false,"zero":false},"axis":{"title":"Ex. (nm)","grid":false,"values":[200,250,300,350,400,450,500],"tickCount":20,"tickSize":-3,"tickColor":"#666666","domainColor":"#888888","labelFont":"Liberation Sans","labelFontSize":9,"labelColor":"#444444","labelPadding":7,"labelFlush":false,"labelOverlap":false,"titleFont":"Liberation Sans","titleFontSize":9.3,"titleFontWeight":"normal","titleColor":"#444444","titlePadding":5}},"y":{"field":"lo","type":"quantitative","scale":{"domain":[250,600],"nice":false,"zero":false},"axis":{"title":"Em. (nm)","grid":false,"values":[250,300,350,400,450,500,550,600],"tickCount":20,"tickSize":-3,"tickColor":"#666666","domainColor":"#888888","labelFont":"Liberation Sans","labelFontSize":9,"labelColor":"#444444","labelPadding":6,"labelFlush":false,"labelOverlap":false,"titleFont":"Liberation Sans","titleFontSize":9.3,"titleFontWeight":"normal","titleColor":"#444444","titlePadding":2}},"y2":{"field":"hi"},"fill":{"field":"level","type":"nominal","legend":null,"scale":{"domain":["slate","blue","sky","teal","green","lime","olive","gold","orange","yellow","dark"],"range":["#4f5798","#4a7cb8","#3aa6c6","#45b5a0","#5db78d","#8dc04f","#a3bc3b","#d8b034","#fbb03f","#f0e431","#2d2356"]}},"detail":{"field":"shape"}}},
{"data":{"name":"diagonal"},"mark":{"type":"area","interpolate":"step","fill":"white","stroke":null,"clip":true},"encoding":{"x":{"field":"ex","type":"quantitative"},"y":{"field":"em","type":"quantitative"},"y2":{"datum":250}}}
]},
{"title":{"text":"W−C2","font":"Liberation Serif","fontSize":18,"fontWeight":"normal","color":"#222","offset":-3,"dx":11},"width":271,"height":214,"view":{"fill":"#47307c","stroke":"#888888"},"layer":[
{"data":{"name":"contours"},"transform":[{"filter":"datum.panel==='W-C2'"}],"mark":{"type":"area","interpolate":"monotone","clip":true,"stroke":"#2b2b4a","strokeWidth":0.7,"strokeOpacity":0.85},"encoding":{"x":{"field":"ex","type":"quantitative","scale":{"domain":[200,500],"nice":false,"zero":false},"axis":{"title":"Ex. (nm)","grid":false,"values":[200,250,300,350,400,450,500],"tickCount":20,"tickSize":-3,"tickColor":"#666666","domainColor":"#888888","labelFont":"Liberation Sans","labelFontSize":9,"labelColor":"#444444","labelPadding":7,"labelFlush":false,"labelOverlap":false,"titleFont":"Liberation Sans","titleFontSize":9.3,"titleFontWeight":"normal","titleColor":"#444444","titlePadding":5}},"y":{"field":"lo","type":"quantitative","scale":{"domain":[250,600],"nice":false,"zero":false},"axis":{"title":"Em. (nm)","grid":false,"values":[250,300,350,400,450,500,550,600],"tickCount":20,"tickSize":-3,"tickColor":"#666666","domainColor":"#888888","labelFont":"Liberation Sans","labelFontSize":9,"labelColor":"#444444","labelPadding":6,"labelFlush":false,"labelOverlap":false,"titleFont":"Liberation Sans","titleFontSize":9.3,"titleFontWeight":"normal","titleColor":"#444444","titlePadding":2}},"y2":{"field":"hi"},"fill":{"field":"level","type":"nominal","legend":null,"scale":{"domain":["slate","blue","sky","teal","green","lime","olive","gold","orange","yellow","dark"],"range":["#4f5798","#4a7cb8","#3aa6c6","#45b5a0","#5db78d","#8dc04f","#a3bc3b","#d8b034","#fbb03f","#f0e431","#2d2356"]}},"detail":{"field":"shape"}}},
{"data":{"name":"diagonal"},"mark":{"type":"area","interpolate":"step","fill":"white","stroke":null,"clip":true},"encoding":{"x":{"field":"ex","type":"quantitative"},"y":{"field":"em","type":"quantitative"},"y2":{"datum":250}}}
]},
{"title":{"text":"S−C1","font":"Liberation Serif","fontSize":18,"fontWeight":"normal","color":"#222","offset":-3,"dx":9},"width":271,"height":214,"view":{"fill":"#47307c","stroke":"#888888"},"layer":[
{"data":{"name":"contours"},"transform":[{"filter":"datum.panel==='S-C1'"}],"mark":{"type":"area","interpolate":"monotone","clip":true,"stroke":"#2b2b4a","strokeWidth":0.7,"strokeOpacity":0.85},"encoding":{"x":{"field":"ex","type":"quantitative","scale":{"domain":[200,500],"nice":false,"zero":false},"axis":{"title":"Ex. (nm)","grid":false,"values":[200,250,300,350,400,450,500],"tickCount":20,"tickSize":-3,"tickColor":"#666666","domainColor":"#888888","labelFont":"Liberation Sans","labelFontSize":9,"labelColor":"#444444","labelPadding":7,"labelFlush":false,"labelOverlap":false,"titleFont":"Liberation Sans","titleFontSize":9.3,"titleFontWeight":"normal","titleColor":"#444444","titlePadding":5}},"y":{"field":"lo","type":"quantitative","scale":{"domain":[250,600],"nice":false,"zero":false},"axis":{"title":"Em. (nm)","grid":false,"values":[250,300,350,400,450,500,550,600],"tickCount":20,"tickSize":-3,"tickColor":"#666666","domainColor":"#888888","labelFont":"Liberation Sans","labelFontSize":9,"labelColor":"#444444","labelPadding":6,"labelFlush":false,"labelOverlap":false,"titleFont":"Liberation Sans","titleFontSize":9.3,"titleFontWeight":"normal","titleColor":"#444444","titlePadding":2}},"y2":{"field":"hi"},"fill":{"field":"level","type":"nominal","legend":null,"scale":{"domain":["slate","blue","sky","teal","green","lime","olive","gold","orange","yellow","dark"],"range":["#4f5798","#4a7cb8","#3aa6c6","#45b5a0","#5db78d","#8dc04f","#a3bc3b","#d8b034","#fbb03f","#f0e431","#2d2356"]}},"detail":{"field":"shape"}}},
{"data":{"name":"diagonal"},"mark":{"type":"area","interpolate":"step","fill":"white","stroke":null,"clip":true},"encoding":{"x":{"field":"ex","type":"quantitative"},"y":{"field":"em","type":"quantitative"},"y2":{"datum":250}}}
]},
{"title":{"text":"S−C2","font":"Liberation Serif","fontSize":18,"fontWeight":"normal","color":"#222","offset":-3,"dx":9},"width":271,"height":214,"view":{"fill":"#47307c","stroke":"#888888"},"layer":[
{"data":{"name":"contours"},"transform":[{"filter":"datum.panel==='S-C2'"}],"mark":{"type":"area","interpolate":"monotone","clip":true,"stroke":"#2b2b4a","strokeWidth":0.7,"strokeOpacity":0.85},"encoding":{"x":{"field":"ex","type":"quantitative","scale":{"domain":[200,500],"nice":false,"zero":false},"axis":{"title":"Ex. (nm)","grid":false,"values":[200,250,300,350,400,450,500],"tickCount":20,"tickSize":-3,"tickColor":"#666666","domainColor":"#888888","labelFont":"Liberation Sans","labelFontSize":9,"labelColor":"#444444","labelPadding":7,"labelFlush":false,"labelOverlap":false,"titleFont":"Liberation Sans","titleFontSize":9.3,"titleFontWeight":"normal","titleColor":"#444444","titlePadding":5}},"y":{"field":"lo","type":"quantitative","scale":{"domain":[250,600],"nice":false,"zero":false},"axis":{"title":"Em. (nm)","grid":false,"values":[250,300,350,400,450,500,550,600],"tickCount":20,"tickSize":-3,"tickColor":"#666666","domainColor":"#888888","labelFont":"Liberation Sans","labelFontSize":9,"labelColor":"#444444","labelPadding":6,"labelFlush":false,"labelOverlap":false,"titleFont":"Liberation Sans","titleFontSize":9.3,"titleFontWeight":"normal","titleColor":"#444444","titlePadding":2}},"y2":{"field":"hi"},"fill":{"field":"level","type":"nominal","legend":null,"scale":{"domain":["slate","blue","sky","teal","green","lime","olive","gold","orange","yellow","dark"],"range":["#4f5798","#4a7cb8","#3aa6c6","#45b5a0","#5db78d","#8dc04f","#a3bc3b","#d8b034","#fbb03f","#f0e431","#2d2356"]}},"detail":{"field":"shape"}}},
{"data":{"name":"diagonal"},"mark":{"type":"area","interpolate":"step","fill":"white","stroke":null,"clip":true},"encoding":{"x":{"field":"ex","type":"quantitative"},"y":{"field":"em","type":"quantitative"},"y2":{"datum":250}}}
]}
],"spacing":73.7,"bounds":"flush"},
{"vconcat":[
{"width":268.7,"height":199,"layer":[
{"data":{"name":"spectra"},"transform":[{"filter":"datum.panel==='W-C1'"}],"mark":{"type":"line","strokeWidth":0.9},"encoding":{"x":{"field":"wl","type":"quantitative","scale":{"domain":[200,600],"nice":false,"zero":false},"axis":{"title":"Wavelength/nm","grid":false,"values":[200,250,300,350,400,450,500,550,600],"tickCount":20,"labelExpr":"datum.value % 100 === 0 ? datum.label : ''","tickSize":{"condition":{"test":"datum.value % 100 === 0","value":6},"value":3},"tickColor":"#222222","domainColor":"#222222","domainWidth":1.2,"labelFont":"Liberation Serif","labelFontSize":14,"labelColor":"#222222","labelPadding":4,"labelFlush":false,"labelOverlap":false,"titleFont":"Liberation Serif","titleFontSize":17,"titleFontWeight":"normal","titleColor":"#222222","titlePadding":1.5}},"y":{"field":"loading","type":"quantitative","scale":{"domain":[0,0.6],"nice":false,"range":[199,10.7]},"axis":{"title":"Loadings","titleY":95,"grid":false,"values":[0,0.05,0.1,0.15,0.2,0.25,0.3,0.35,0.4,0.45,0.5,0.55,0.6],"tickCount":20,"format":".1f","labelExpr":"round(datum.value*100) % 10 === 0 ? datum.label : ''","tickSize":{"condition":{"test":"round(datum.value*100) % 10 === 0","value":6},"value":3},"tickColor":"#222222","domainColor":"#222222","domainWidth":1.2,"labelFont":"Liberation Serif","labelFontSize":14,"labelColor":"#222222","labelPadding":4,"labelOverlap":false,"titleFont":"Liberation Serif","titleFontSize":17,"titleFontWeight":"normal","titleColor":"#222222","titlePadding":5}},"stroke":{"field":"series","type":"nominal","scale":{"domain":["Excitation","Emission"],"range":["#e8414f","#222222"]},"legend":{"title":null,"orient":"none","legendX":154,"legendY":0.7,"symbolType":"stroke","symbolSize":900,"clipHeight":16,"symbolStrokeWidth":1,"labelFont":"Liberation Serif","labelFontSize":13.7,"labelColor":"#222222","labelOffset":1,"padding":2,"rowPadding":1,"strokeColor":"#777777","fillColor":"white"}},"strokeDash":{"field":"series","type":"nominal","scale":{"domain":["Excitation","Emission"],"range":[[5,1.5,1,1.5,1,1.5],[1,0]]},"legend":null}}},
{"data":{"name":"labels"},"transform":[{"filter":"datum.panel==='W-C1'"}],"mark":{"type":"text","font":"Liberation Serif","fontSize":18,"color":"#222222","align":"center","baseline":"alphabetic"},"encoding":{"x":{"field":"wl","type":"quantitative"},"y":{"field":"loading","type":"quantitative"},"text":{"field":"label"}}}
]},
{"width":268.7,"height":199,"layer":[
{"data":{"name":"spectra"},"transform":[{"filter":"datum.panel==='W-C2'"}],"mark":{"type":"line","strokeWidth":0.9},"encoding":{"x":{"field":"wl","type":"quantitative","scale":{"domain":[200,600],"nice":false,"zero":false},"axis":{"title":"Wavelength/nm","grid":false,"values":[200,250,300,350,400,450,500,550,600],"tickCount":20,"labelExpr":"datum.value % 100 === 0 ? datum.label : ''","tickSize":{"condition":{"test":"datum.value % 100 === 0","value":6},"value":3},"tickColor":"#222222","domainColor":"#222222","domainWidth":1.2,"labelFont":"Liberation Serif","labelFontSize":14,"labelColor":"#222222","labelPadding":4,"labelFlush":false,"labelOverlap":false,"titleFont":"Liberation Serif","titleFontSize":17,"titleFontWeight":"normal","titleColor":"#222222","titlePadding":1.5}},"y":{"field":"loading","type":"quantitative","scale":{"domain":[0,0.6],"nice":false,"range":[199,10.7]},"axis":{"title":"Loadings","titleY":95,"grid":false,"values":[0,0.05,0.1,0.15,0.2,0.25,0.3,0.35,0.4,0.45,0.5,0.55,0.6],"tickCount":20,"format":".1f","labelExpr":"round(datum.value*100) % 10 === 0 ? datum.label : ''","tickSize":{"condition":{"test":"round(datum.value*100) % 10 === 0","value":6},"value":3},"tickColor":"#222222","domainColor":"#222222","domainWidth":1.2,"labelFont":"Liberation Serif","labelFontSize":14,"labelColor":"#222222","labelPadding":4,"labelOverlap":false,"titleFont":"Liberation Serif","titleFontSize":17,"titleFontWeight":"normal","titleColor":"#222222","titlePadding":5}},"stroke":{"field":"series","type":"nominal","scale":{"domain":["Excitation","Emission"],"range":["#e8414f","#222222"]},"legend":{"title":null,"orient":"none","legendX":154,"legendY":0.6,"symbolType":"stroke","symbolSize":900,"clipHeight":16,"symbolStrokeWidth":1,"labelFont":"Liberation Serif","labelFontSize":13.7,"labelColor":"#222222","labelOffset":1,"padding":2,"rowPadding":1,"strokeColor":"#777777","fillColor":"white"}},"strokeDash":{"field":"series","type":"nominal","scale":{"domain":["Excitation","Emission"],"range":[[5,1.5,1,1.5,1,1.5],[1,0]]},"legend":null}}},
{"data":{"name":"labels"},"transform":[{"filter":"datum.panel==='W-C2'"}],"mark":{"type":"text","font":"Liberation Serif","fontSize":18,"color":"#222222","align":"center","baseline":"alphabetic"},"encoding":{"x":{"field":"wl","type":"quantitative"},"y":{"field":"loading","type":"quantitative"},"text":{"field":"label"}}}
]},
{"width":268.7,"height":199,"layer":[
{"data":{"name":"spectra"},"transform":[{"filter":"datum.panel==='S-C1'"}],"mark":{"type":"line","strokeWidth":0.9},"encoding":{"x":{"field":"wl","type":"quantitative","scale":{"domain":[200,600],"nice":false,"zero":false},"axis":{"title":"Wavelength/nm","grid":false,"values":[200,250,300,350,400,450,500,550,600],"tickCount":20,"labelExpr":"datum.value % 100 === 0 ? datum.label : ''","tickSize":{"condition":{"test":"datum.value % 100 === 0","value":6},"value":3},"tickColor":"#222222","domainColor":"#222222","domainWidth":1.2,"labelFont":"Liberation Serif","labelFontSize":14,"labelColor":"#222222","labelPadding":4,"labelFlush":false,"labelOverlap":false,"titleFont":"Liberation Serif","titleFontSize":17,"titleFontWeight":"normal","titleColor":"#222222","titlePadding":1.5}},"y":{"field":"loading","type":"quantitative","scale":{"domain":[0,0.6],"nice":false,"range":[199,10.7]},"axis":{"title":"Loadings","titleY":95,"grid":false,"values":[0,0.05,0.1,0.15,0.2,0.25,0.3,0.35,0.4,0.45,0.5,0.55,0.6],"tickCount":20,"format":".1f","labelExpr":"round(datum.value*100) % 10 === 0 ? datum.label : ''","tickSize":{"condition":{"test":"round(datum.value*100) % 10 === 0","value":6},"value":3},"tickColor":"#222222","domainColor":"#222222","domainWidth":1.2,"labelFont":"Liberation Serif","labelFontSize":14,"labelColor":"#222222","labelPadding":4,"labelOverlap":false,"titleFont":"Liberation Serif","titleFontSize":17,"titleFontWeight":"normal","titleColor":"#222222","titlePadding":5}},"stroke":{"field":"series","type":"nominal","scale":{"domain":["Excitation","Emission"],"range":["#e8414f","#222222"]},"legend":{"title":null,"orient":"none","legendX":154,"legendY":-0.7,"symbolType":"stroke","symbolSize":900,"clipHeight":16,"symbolStrokeWidth":1,"labelFont":"Liberation Serif","labelFontSize":13.7,"labelColor":"#222222","labelOffset":1,"padding":2,"rowPadding":1,"strokeColor":"#777777","fillColor":"white"}},"strokeDash":{"field":"series","type":"nominal","scale":{"domain":["Excitation","Emission"],"range":[[5,1.5,1,1.5,1,1.5],[1,0]]},"legend":null}}},
{"data":{"name":"labels"},"transform":[{"filter":"datum.panel==='S-C1'"}],"mark":{"type":"text","font":"Liberation Serif","fontSize":18,"color":"#222222","align":"center","baseline":"alphabetic"},"encoding":{"x":{"field":"wl","type":"quantitative"},"y":{"field":"loading","type":"quantitative"},"text":{"field":"label"}}}
]},
{"width":268.7,"height":199,"layer":[
{"data":{"name":"spectra"},"transform":[{"filter":"datum.panel==='S-C2'"}],"mark":{"type":"line","strokeWidth":0.9},"encoding":{"x":{"field":"wl","type":"quantitative","scale":{"domain":[200,600],"nice":false,"zero":false},"axis":{"title":"Wavelength/nm","grid":false,"values":[200,250,300,350,400,450,500,550,600],"tickCount":20,"labelExpr":"datum.value % 100 === 0 ? datum.label : ''","tickSize":{"condition":{"test":"datum.value % 100 === 0","value":6},"value":3},"tickColor":"#222222","domainColor":"#222222","domainWidth":1.2,"labelFont":"Liberation Serif","labelFontSize":14,"labelColor":"#222222","labelPadding":4,"labelFlush":false,"labelOverlap":false,"titleFont":"Liberation Serif","titleFontSize":17,"titleFontWeight":"normal","titleColor":"#222222","titlePadding":1.5}},"y":{"field":"loading","type":"quantitative","scale":{"domain":[0,0.6],"nice":false,"range":[199,10.7]},"axis":{"title":"Loadings","titleY":95,"grid":false,"values":[0,0.05,0.1,0.15,0.2,0.25,0.3,0.35,0.4,0.45,0.5,0.55,0.6],"tickCount":20,"format":".1f","labelExpr":"round(datum.value*100) % 10 === 0 ? datum.label : ''","tickSize":{"condition":{"test":"round(datum.value*100) % 10 === 0","value":6},"value":3},"tickColor":"#222222","domainColor":"#222222","domainWidth":1.2,"labelFont":"Liberation Serif","labelFontSize":14,"labelColor":"#222222","labelPadding":4,"labelOverlap":false,"titleFont":"Liberation Serif","titleFontSize":17,"titleFontWeight":"normal","titleColor":"#222222","titlePadding":5}},"stroke":{"field":"series","type":"nominal","scale":{"domain":["Excitation","Emission"],"range":["#e8414f","#222222"]},"legend":{"title":null,"orient":"none","legendX":154,"legendY":1.6,"symbolType":"stroke","symbolSize":900,"clipHeight":16,"symbolStrokeWidth":1,"labelFont":"Liberation Serif","labelFontSize":13.7,"labelColor":"#222222","labelOffset":1,"padding":2,"rowPadding":1,"strokeColor":"#777777","fillColor":"white"}},"strokeDash":{"field":"series","type":"nominal","scale":{"domain":["Excitation","Emission"],"range":[[5,1.5,1,1.5,1,1.5],[1,0]]},"legend":null}}},
{"data":{"name":"labels"},"transform":[{"filter":"datum.panel==='S-C2'"}],"mark":{"type":"text","font":"Liberation Serif","fontSize":18,"color":"#222222","align":"center","baseline":"alphabetic"},"encoding":{"x":{"field":"wl","type":"quantitative"},"y":{"field":"loading","type":"quantitative"},"text":{"field":"label"}}}
]}
],"spacing":88.7,"bounds":"flush","resolve":{"scale":{"stroke":"independent","strokeDash":"independent"},"legend":{"stroke":"independent","strokeDash":"independent"}}}
]}
